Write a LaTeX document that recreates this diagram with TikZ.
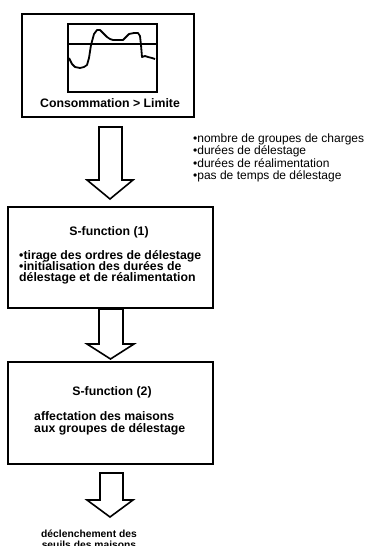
\documentclass[tikz,border=0pt]{standalone}
\usepackage{fontspec}
\setmainfont{Liberation Sans}
\begin{document}
\begin{tikzpicture}[x=1pt,y=-1pt,
  box/.style={draw=black,line width=2.6pt},
  bigarrow/.style={draw=black,line width=1.6pt,fill=white,line join=miter},
  btxt/.style={inner sep=0pt,font=\fontsize{12.3}{11}\selectfont\bfseries},
  dtxt/.style={inner sep=0pt,font=\fontsize{10.3}{11}\selectfont\bfseries},
  rtxt/.style={inner sep=0pt,font=\fontsize{12}{12.5}\selectfont}]
\useasboundingbox (0,0) rectangle (369,546);
% box 1
\draw[box] (22,14) rectangle (194,117);
\draw[line width=2.2pt] (68,24) rectangle (157,92);
\draw[line width=1.6pt] (68,44) -- (157,44);
\draw[line width=1.8pt,line join=round] (69,58) -- (72,64) -- (75,67) -- (80,68) -- (84,67) -- (87,65)
  -- (89,58) -- (91,45) -- (94,34) -- (97,30) -- (100,30) -- (103,33) -- (107,37) -- (110,39)
  -- (113,40) -- (118,40) -- (123,40) -- (126,37) -- (129,34) -- (134,33) -- (138,33) -- (140,36)
  -- (141,45) -- (142,57) -- (145,56) -- (148,57) -- (152,58) -- (155,59);
\node[btxt,anchor=base] (t1) at (110,107) {Consommation > Limite};
% right list
\node[rtxt,anchor=base west] (l1) at (193,142) {•nombre de groupes de charges};
\node[rtxt,anchor=base west] (l2) at (193,154.5) {•durées de délestage};
\node[rtxt,anchor=base west] (l3) at (193,167) {•durées de réalimentation};
\node[rtxt,anchor=base west] (l4) at (193,179.5) {•pas de temps de délestage};
% arrow 1
\draw[bigarrow] (99,127) -- (122,127) -- (122,180) -- (133,180) -- (110,199) -- (87,180) -- (99,180) -- cycle;
% box 2
\draw[box] (8,207) rectangle (213,308);
\node[btxt,anchor=base] (s1) at (109,235) {S-function (1)};
\node[btxt,anchor=base west] (b1) at (19,259) {•tirage des ordres de délestage};
\node[btxt,anchor=base west] (b2) at (19,270) {•initialisation des durées de};
\node[btxt,anchor=base west] (b3) at (19,281) {délestage et de réalimentation};
% arrow 2
\draw[bigarrow] (99,309) -- (123,309) -- (123,344) -- (134,344) -- (110.5,359) -- (87,344) -- (99,344) -- cycle;
% box 3
\draw[box] (8,362) rectangle (213,464);
\node[btxt,anchor=base] (s2) at (112,395) {S-function (2)};
\node[btxt,anchor=base west] (c1) at (34,420) {affectation des maisons};
\node[btxt,anchor=base west] (c2) at (34,432) {aux groupes de délestage};
% arrow 3
\draw[bigarrow] (100,473) -- (123,473) -- (123,500) -- (133,500) -- (110,517) -- (87,500) -- (100,500) -- cycle;
% bottom text
\node[dtxt,anchor=base] (d1) at (89,537) {déclenchement des};
\node[dtxt,anchor=base] (d2) at (89,548.5) {seuils des maisons};
\end{tikzpicture}
\end{document}
